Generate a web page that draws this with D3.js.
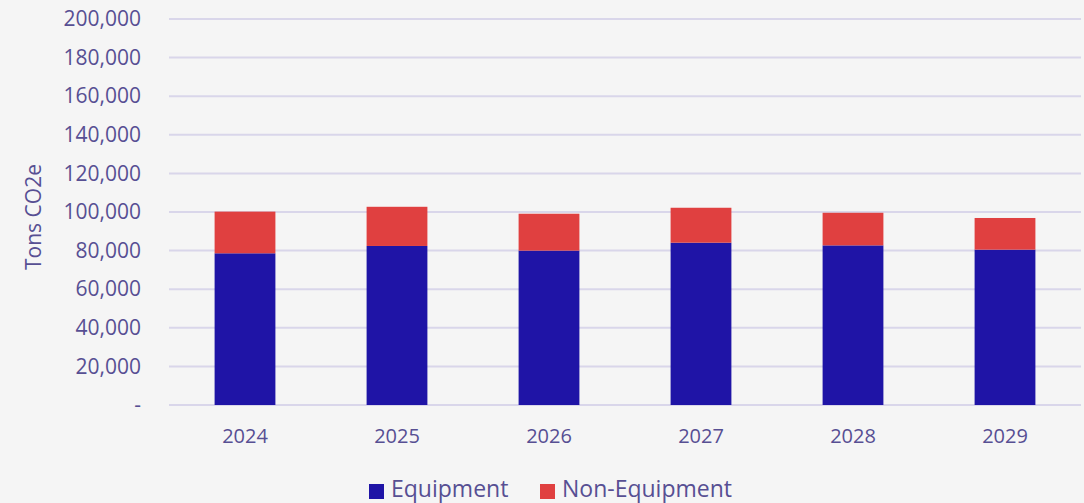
<!DOCTYPE html>
<head>
    <meta charset="utf-8">
    <script src="https://d3js.org/d3.v7.min.js"></script>
    <style>
        body {
            margin: 0;
            background: #f5f5f5;
        }
        text {
            font-family: "Open Sans", sans-serif;
            fill: #574f93;
        }
    </style>
</head>

<body>
<svg id="chart" width="1084" height="503"></svg>
<script>

    // data
    const years = ["2024", "2025", "2026", "2027", "2028", "2029"];
    const equipment = [78600, 82400, 80000, 84100, 82700, 80500];
    const nonEquipment = [21600, 20300, 19100, 18100, 16900, 16400];
    const yTicks = [0, 20000, 40000, 60000, 80000, 100000, 120000, 140000, 160000, 180000, 200000];
    const seriesNames = ["Equipment", "Non-Equipment"];
    const colors = ["#1f14a6", "#e04040"];

    const margin = {top: 19, right: 3, bottom: 98, left: 169};
    const W = 1084, H = 503;

    let svg = d3.select("#chart");

    let x = d3.scaleBand()
        .domain(years)
        .range([margin.left, W - margin.right])
        .paddingInner(0.6)
        .paddingOuter(0.3);

    let y = d3.scaleLinear()
        .domain([0, 200000])
        .range([H - margin.bottom, margin.top]);

    // gridlines
    svg.append("g")
        .selectAll("line")
        .data(yTicks)
        .enter()
        .append("line")
        .attr("x1", margin.left)
        .attr("x2", W - margin.right)
        .attr("y1", d => y(d))
        .attr("y2", d => y(d))
        .attr("stroke", "#d9d6ea")
        .attr("stroke-width", 2);

    let table = years.map((yr, i) => ({year: yr, Equipment: equipment[i], "Non-Equipment": nonEquipment[i]}));
    let stacked = d3.stack().keys(seriesNames)(table);

    svg.append("g")
        .selectAll("g")
        .data(stacked)
        .enter()
        .append("g")
        .attr("fill", (d, i) => colors[i])
        .selectAll("rect")
        .data(d => d)
        .enter()
        .append("rect")
        .attr("x", d => x(d.data.year))
        .attr("width", x.bandwidth())
        .attr("y", d => y(d[1]))
        .attr("height", d => y(d[0]) - y(d[1]));

    // y axis labels
    let fmt = d3.format(",");
    let yAxis = d3.axisLeft(y)
        .tickValues(yTicks)
        .tickSize(0)
        .tickPadding(0)
        .tickFormat(d => d === 0 ? "-" : fmt(d));

    let ya = svg.append("g")
        .attr("transform", "translate(141,0)")
        .call(yAxis);
    ya.select(".domain").remove();
    ya.selectAll("text")
        .style("font-size", "21px")
        .attr("fill", "#574f93")
        .attr("font-family", "Open Sans");

    // x axis labels
    let xAxis = d3.axisBottom(x).tickSize(0).tickPadding(0);
    let xa = svg.append("g")
        .attr("transform", "translate(0,429)")
        .call(xAxis);
    xa.select(".domain").remove();
    xa.selectAll("text")
        .style("font-size", "20px")
        .attr("fill", "#574f93")
        .attr("font-family", "Open Sans");

    // axis title
    svg.append("text")
        .attr("transform", "translate(41," + ((margin.top + H - margin.bottom) / 2 + 5) + ") rotate(-90)")
        .style("text-anchor", "middle")
        .style("font-size", "21px")
        .text("Tons CO2e");

    // legend
    let legendX = [369, 540];
    let legend = svg.append("g");
    legend.selectAll("rect")
        .data(seriesNames)
        .enter()
        .append("rect")
        .attr("x", (d, i) => legendX[i])
        .attr("y", 484)
        .attr("width", 15)
        .attr("height", 15)
        .attr("fill", (d, i) => colors[i]);
    legend.selectAll("text")
        .data(seriesNames)
        .enter()
        .append("text")
        .attr("x", (d, i) => legendX[i] + 22)
        .attr("y", 497)
        .style("font-size", "23px")
        .text(d => d);

</script>

</body>
